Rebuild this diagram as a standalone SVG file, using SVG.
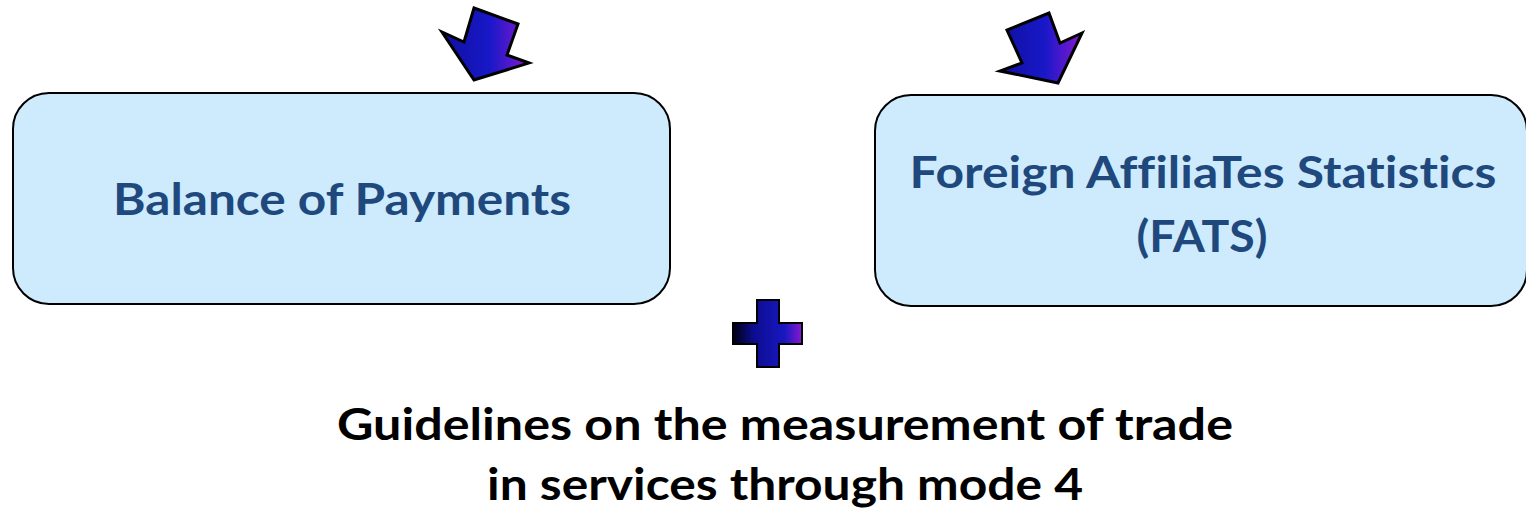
<svg xmlns="http://www.w3.org/2000/svg" width="1526" height="512" viewBox="0 0 1526 512">
<defs>
<linearGradient id="g" x1="0" y1="0" x2="1" y2="0">
<stop offset="0" stop-color="#1010a0"/>
<stop offset="0.55" stop-color="#1818c8"/>
<stop offset="1" stop-color="#8a18d0"/>
</linearGradient>
<linearGradient id="gp" x1="0" y1="0" x2="1" y2="0">
<stop offset="0" stop-color="#000010"/>
<stop offset="0.3" stop-color="#0c0c90"/>
<stop offset="0.75" stop-color="#1818c0"/>
<stop offset="1" stop-color="#8a18d0"/>
</linearGradient>
<style>
.box{fill:#cdebfc;stroke:#000;stroke-width:2}
.arr{fill:url(#g);stroke:#000;stroke-width:3;stroke-linejoin:miter}
text{font-variant-ligatures:none;font-feature-settings:"liga" 0,"dlig" 0}
.bt{font-family:Lato,"Open Sans","Liberation Sans",sans-serif;font-weight:bold;fill:#1f497d;font-size:44px;text-anchor:middle}
.mt{font-family:Lato,"Open Sans","Liberation Sans",sans-serif;font-weight:bold;fill:#000;font-size:43px;text-anchor:middle}
</style>
</defs>
<g id="connectors">
<polygon class="arr" points="474,8 518,24 507,55 529,63 474,80 442,32 464,42"/>
<polygon class="arr" points="1049,13 1060,43 1082,33 1058,83 1000,71 1022,63 1007,30"/>
</g>
<g id="bop">
<rect class="box" x="13" y="93" width="657" height="211" rx="36"/>
<text class="bt" x="342" y="215" textLength="458" lengthAdjust="spacingAndGlyphs">Balance of Payments</text>
</g>
<g id="fats">
<rect class="box" x="875" y="95" width="652" height="211" rx="36"/>
<text class="bt" x="1203" y="188" textLength="587" lengthAdjust="spacingAndGlyphs">Foreign AffiliaTes Statistics</text>
<text class="bt" x="1202" y="252" textLength="131" lengthAdjust="spacingAndGlyphs">(FATS)</text>
</g>
<g id="plus">
<path d="M757,300 H779 V323 H802 V344 H779 V367 H757 V344 H733 V323 H757 Z" fill="url(#gp)" stroke="#000" stroke-width="2"/>
</g>
<g id="caption">
<text class="mt" x="785" y="440" textLength="896" lengthAdjust="spacingAndGlyphs">Guidelines on the measurement of trade</text>
<text class="mt" x="785" y="500" textLength="596" lengthAdjust="spacingAndGlyphs">in services through mode 4</text>
</g>
</svg>
